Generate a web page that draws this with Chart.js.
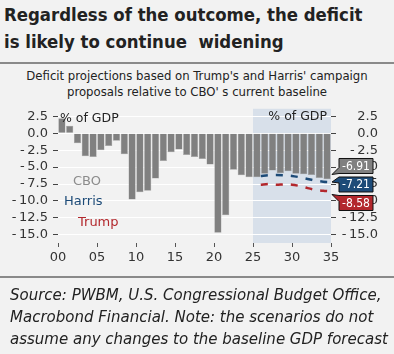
<!DOCTYPE html>
<html>
<head>
<meta charset="utf-8">
<script src="https://cdn.jsdelivr.net/npm/chart.js@4.4.1/dist/chart.umd.min.js"></script>
<style>
  html, body { margin: 0; padding: 0; background: #f2f2f2; }
  body { width: 394px; height: 354px; position: relative; overflow: hidden; font-family: "DejaVu Sans", sans-serif; color: #222; }
  #title { position: absolute; left: 4px; top: 1px; font-family: "DejaVu Sans Condensed", "DejaVu Sans", sans-serif; font-stretch: condensed; font-weight: bold; font-size: 18.4px; line-height: 27px; color: #222; }
  .rule { position: absolute; left: 0; width: 394px; height: 2px; background: #8a8a8a; }
  #subtitle { position: absolute; left: 0; width: 394px; top: 68px; text-align: center; font-family: "DejaVu Sans Condensed", "DejaVu Sans", sans-serif; font-size: 13px; line-height: 16px; color: #222; }
  #source { position: absolute; left: 10px; top: 284px; font-family: "DejaVu Sans", sans-serif; font-style: italic; font-size: 15px; line-height: 22px; color: #222; }
  #wrap { position: absolute; left: 0; top: 96px; width: 394px; height: 181px; }
</style>
</head>
<body>
<div id="title">Regardless of the outcome, the deficit<br>is likely to continue&nbsp; widening</div>
<div class="rule" style="top:62px"></div>
<div id="subtitle">Deficit projections based on Trump's and Harris' campaign<br>proposals relative to CBO' s current baseline</div>
<div id="wrap"><canvas id="deficitChart" width="394" height="181"></canvas></div>
<div class="rule" style="top:276px"></div>
<div id="source">Source: PWBM, U.S. Congressional Budget Office,<br>Macrobond Financial. Note: the scenarios do not<br>assume any changes to the baseline GDP forecast</div>
<script>
// budget balance, % of GDP (CBO actuals + baseline), fiscal years 2000-2034
const cboYears = [2000, 2001, 2002, 2003, 2004, 2005, 2006, 2007, 2008, 2009,
  2010, 2011, 2012, 2013, 2014, 2015, 2016, 2017, 2018, 2019,
  2020, 2021, 2022, 2023, 2024, 2025, 2026, 2027, 2028, 2029,
  2030, 2031, 2032, 2033, 2034];
const cboValues = [2.2, 1.1, -1.5, -3.4, -3.5, -2.5, -1.9, -1.1, -3.1, -9.8,
  -8.7, -8.5, -6.7, -4.1, -2.8, -2.4, -3.2, -3.5, -3.8, -4.6,
  -14.7, -12.1, -5.4, -6.2, -6.5, -6.5, -6.0, -5.5, -5.9, -5.6,
  -6.0, -6.05, -6.15, -6.6, -6.8];

// campaign scenarios
const scenarioYears = [2026, 2027, 2028, 2029, 2030, 2031, 2032, 2033, 2034, 2035];
const harrisValues = [-6.3, -6.2, -6.15, -6.2, -6.3, -6.5, -6.75, -7.0, -7.15, -7.21];
const trumpValues = [-7.6, -7.5, -7.6, -7.55, -7.6, -7.8, -8.1, -8.35, -8.5, -8.58];

// end-of-horizon values shown in the boxes
const endLabels = ["-6.91", "-7.21", "-8.58"];
const endValues = [-6.91, -7.21, -8.58];

const yTicks = [2.5, 0, -2.5, -5, -7.5, -10, -12.5, -15];
const xTicks = [0, 5, 10, 15, 20, 25, 30, 35];

const GREY = "#808080";
const BLUE = "#1d4b78";
const RED = "#b3282d";

const forecastBand = {
  id: "forecastBand",
  beforeDraw(chart) {
    const { ctx, chartArea, scales } = chart;
    const x0 = scales.x.getPixelForValue(25);
    const x1 = scales.x.getPixelForValue(35);
    ctx.save();
    ctx.fillStyle = "#d8e0ea";
    ctx.fillRect(x0, chartArea.top, x1 - x0, chartArea.bottom - chartArea.top);
    ctx.restore();
  },
  afterDraw(chart) {
    const { ctx, chartArea, scales } = chart;
    ctx.save();
    ctx.font = "12.5px 'DejaVu Sans', sans-serif";
    ctx.textBaseline = "middle";
    ctx.fillStyle = "#222";
    ctx.textAlign = "left";
    ctx.fillText("% of GDP", chartArea.left + 2, chartArea.top + 10);
    ctx.textAlign = "right";
    ctx.fillText("% of GDP", chartArea.right - 4, chartArea.top + 8);

    ctx.font = "13px 'DejaVu Sans', sans-serif";
    ctx.textAlign = "left";
    ctx.fillStyle = "#8c8c8c";
    ctx.fillText("CBO", chartArea.left + 15, chartArea.top + 73);
    ctx.fillStyle = BLUE;
    ctx.fillText("Harris", chartArea.left + 6, chartArea.top + 93);
    ctx.fillStyle = RED;
    ctx.fillText("Trump", chartArea.left + 20, chartArea.top + 114);

    // end value boxes, spread apart around their mean
    const colors = [GREY, BLUE, RED];
    const ys = endValues.map(v => scales.y.getPixelForValue(v));
    const gap = 18.5;
    const mean = ys.reduce((a, b) => a + b, 0) / ys.length;
    const placed = ys.map((y, i) => mean + (i - (ys.length - 1) / 2) * gap);
    const left = chartArea.right + 8;
    const w = 34, h = 15;
    ctx.font = "12px 'DejaVu Sans Condensed', 'DejaVu Sans', sans-serif";
    placed.forEach((cy, i) => {
      const top = cy - h / 2, bottom = cy + h / 2;
      const tipY = Math.min(Math.max(ys[i], top - 1), bottom + 1);
      const b0 = Math.max(top, Math.min(tipY - 6, bottom - 6));
      const b1 = Math.min(bottom, b0 + 6);
      ctx.beginPath();
      ctx.moveTo(left, top);
      ctx.lineTo(left + w, top);
      ctx.lineTo(left + w, bottom);
      ctx.lineTo(left, bottom);
      ctx.lineTo(left, b1);
      ctx.lineTo(chartArea.right + 1, tipY);
      ctx.lineTo(left, b0);
      ctx.closePath();
      ctx.fillStyle = colors[i];
      ctx.fill();
      ctx.strokeStyle = "#111";
      ctx.lineWidth = 1;
      ctx.stroke();
      ctx.fillStyle = "#fff";
      ctx.textAlign = "center";
      ctx.fillText(endLabels[i], left + w / 2, cy + 0.5);
    });
    ctx.restore();
  }
};

const tickFont = { family: "'DejaVu Sans', sans-serif", size: 13 };
const fmtY = v => (v < 0 ? "-\u2009" : "") + Math.abs(v).toFixed(1);

const yAxisBase = {
  min: -16.2,
  max: 3.6,
  border: { display: false },
  afterBuildTicks: s => { s.ticks = yTicks.map(v => ({ value: v })); }
};

new Chart(document.getElementById("deficitChart"), {
  type: "bar",
  data: {
    datasets: [
      {
        type: "line",
        label: "Harris",
        data: scenarioYears.map((yr, i) => ({ x: yr - 2000, y: harrisValues[i] })),
        borderColor: BLUE,
        borderWidth: 2.5,
        borderDash: [7, 8],
        pointRadius: 0,
        tension: 0.3,
        order: 0
      },
      {
        type: "line",
        label: "Trump",
        data: scenarioYears.map((yr, i) => ({ x: yr - 2000, y: trumpValues[i] })),
        borderColor: RED,
        borderWidth: 2.5,
        borderDash: [7, 8],
        pointRadius: 0,
        tension: 0.3,
        order: 0
      },
      {
        label: "CBO",
        data: cboYears.map((yr, i) => ({ x: yr - 2000 + 0.5, y: cboValues[i] })),
        backgroundColor: GREY,
        borderColor: "#a0a0a0",
        borderWidth: 0.5,
        barPercentage: 1,
        categoryPercentage: 0.92,
        order: 1
      }
    ]
  },
  options: {
    responsive: false,
    animation: false,
    layout: { padding: { top: 0, left: 0, bottom: 0, right: 16 } },
    plugins: { legend: { display: false }, tooltip: { enabled: false } },
    scales: {
      x: {
        type: "linear",
        min: 0,
        max: 35,
        offset: false,
        border: { display: false },
        grid: { offset: false, drawOnChartArea: false, tickLength: 4, tickColor: "#555" },
        afterBuildTicks: s => { s.ticks = xTicks.map(v => ({ value: v })); },
        afterFit: s => { s.height = 34; },
        ticks: { font: tickFont, color: "#333", padding: 3, maxRotation: 0, autoSkip: false,
          callback: v => String(v).padStart(2, "0") }
      },
      y: Object.assign({}, yAxisBase, {
        position: "left",
        grid: { color: "#ffffff", lineWidth: 1, tickLength: 5, tickColor: "#444" },
        afterFit: s => { s.width = 58; },
        ticks: { font: tickFont, color: "#333", padding: 5, autoSkip: false, callback: fmtY }
      }),
      y2: Object.assign({}, yAxisBase, {
        position: "right",
        grid: { drawOnChartArea: false, tickLength: 5, tickColor: "#444" },
        afterFit: s => { s.width = 47; },
        ticks: { font: tickFont, color: "#333", padding: 4, autoSkip: false, crossAlign: "far", callback: fmtY }
      })
    }
  },
  plugins: [forecastBand]
});
</script>
</body>
</html>
